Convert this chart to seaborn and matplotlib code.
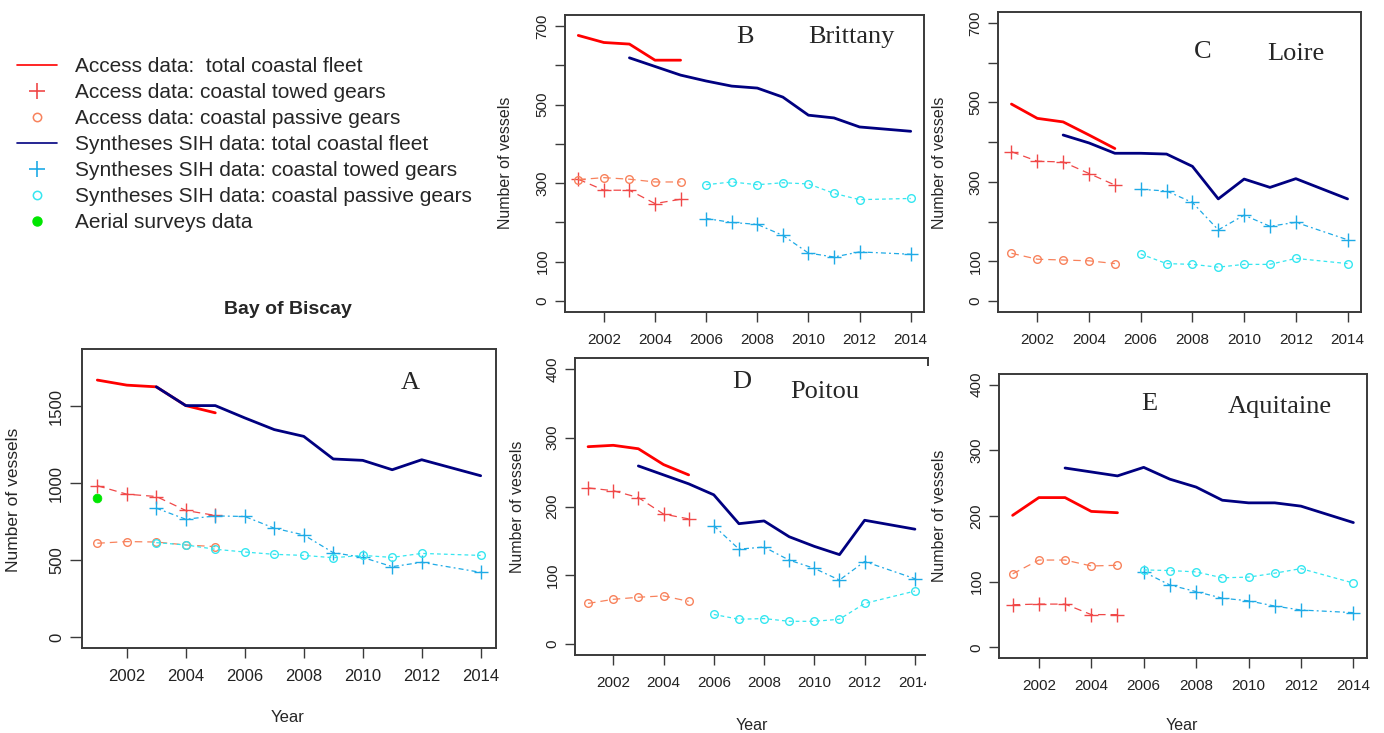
import matplotlib
matplotlib.use("Agg")
import matplotlib.pyplot as plt
import seaborn as sns
from matplotlib.lines import Line2D
from matplotlib.patches import Rectangle

# ---------------- data ----------------
years_acc = [2001, 2002, 2003, 2004, 2005]
years_sih = [2003, 2004, 2005, 2006, 2007, 2008, 2009, 2010, 2011, 2012, 2014]
years_sih_gear = [2006, 2007, 2008, 2009, 2010, 2011, 2012, 2014]

# A  Bay of Biscay
acc_total_A = [1670, 1637, 1626, 1504, 1457]
acc_towed_A = [983, 928, 913, 822, 790]
acc_passive_A = [609, 620, 617, 598, 587]
sih_total_A = [1626, 1504, 1504, 1424, 1348, 1304, 1157, 1148, 1087, 1152, 1048]
sih_towed_A = [837, 765, 787, 783, 707, 663, 548, 517, 457, 485, 420]
sih_passive_A = [613, 598, 570, 552, 537, 530, 515, 530, 517, 543, 530]
aerial_year_A = [2001]
aerial_A = [902]

# B  Brittany
acc_total_B = [676, 658, 654, 613, 613]
acc_towed_B = [310, 282, 282, 248, 259]
acc_passive_B = [309, 314, 310, 303, 303]
sih_total_B = [619, 597, 575, 560, 547, 542, 519, 473, 466, 443, 432]
sih_towed_B = [210, 200, 195, 167, 122, 112, 125, 119]
sih_passive_B = [296, 303, 296, 301, 298, 274, 258, 261]

# C  Loire
acc_total_C = [496, 460, 451, 418, 384]
acc_towed_C = [376, 352, 350, 321, 292]
acc_passive_C = [120, 105, 103, 101, 94]
sih_total_C = [418, 398, 372, 372, 370, 339, 257, 307, 286, 308, 257]
sih_towed_C = [281, 277, 248, 179, 216, 188, 198, 154]
sih_passive_C = [118, 94, 92, 85, 92, 92, 107, 94]

# D  Poitou
acc_total_D = [287, 289, 284, 261, 246]
acc_towed_D = [227, 223, 213, 189, 182]
acc_passive_D = [59, 65, 68, 70, 62]
sih_total_D = [259, 246, 233, 217, 175, 179, 156, 142, 130, 180, 167]
sih_towed_D = [172, 138, 141, 122, 110, 93, 120, 95]
sih_passive_D = [43, 36, 37, 33, 33, 36, 59, 77]

# E  Aquitaine
acc_total_E = [201, 228, 228, 207, 205]
acc_towed_E = [65, 66, 66, 50, 50]
acc_passive_E = [112, 133, 133, 124, 125]
sih_total_E = [273, 267, 261, 274, 256, 244, 224, 220, 220, 215, 190]
sih_towed_E = [115, 95, 85, 75, 71, 63, 57, 53]
sih_passive_E = [118, 117, 115, 106, 107, 113, 120, 98]

legend_labels = [
    "Access data:  total coastal fleet",
    "Access data: coastal towed gears",
    "Access data: coastal passive gears",
    "Syntheses SIH data: total coastal fleet",
    "Syntheses SIH data: coastal towed gears",
    "Syntheses SIH data: coastal passive gears",
    "Aerial surveys data",
]

# ---------------- style ----------------
RED = "#FF0000"
ACC_TOWED = "#F04848"
ACC_PASS = "#F8825C"
NAVY = "#000080"
SIH_TOWED = "#1EAAE6"
SIH_PASS = "#35E6F0"
GREEN = "#00E600"
FRAME = "#3a3a3a"

sns.set_style("ticks")
plt.rcParams["font.family"] = ["Liberation Sans", "DejaVu Sans"]

W, H = 1384, 733
fig = plt.figure(figsize=(W / 100, H / 100), dpi=100)


def add_ax(l, t, r, b, z=0):
    ax = fig.add_axes([l / W, 1 - b / H, (r - l) / W, (b - t) / H])
    ax.set_zorder(z)
    return ax


def series(ax, x, y, color, lw, ls, marker=None, ms=9, mfc=None):
    kw = dict(x=x, y=y, ax=ax, color=color, lw=lw, linestyle=ls)
    if marker is not None:
        kw.update(marker=marker, markersize=ms, markeredgecolor=color,
                  markeredgewidth=1.0,
                  markerfacecolor=(color if mfc is None else mfc))
    sns.lineplot(**kw)


def panel(ax, at, atw, ap, st, stw, sp, gear_years, ymax, ticks, labels):
    series(ax, years_acc, at, RED, 2.0, "-")
    series(ax, years_sih, st, NAVY, 2.0, "-")
    series(ax, years_acc, atw, ACC_TOWED, 0.9, (0, (6, 4)), "+", 10)
    series(ax, years_acc, ap, ACC_PASS, 0.9, (0, (6, 4)), "o", 5.5, "none")
    series(ax, gear_years, stw, SIH_TOWED, 0.9, (0, (4, 2.5, 1.5, 2.5)), "+", 10)
    series(ax, gear_years, sp, SIH_PASS, 0.9, (0, (3, 2.5)), "o", 5.5, "none")
    ax.set_xlim(2000.48, 2014.52)
    ax.set_ylim(-0.04 * ymax, 1.04 * ymax)
    ax.set_xticks(range(2002, 2015, 2))
    ax.set_xticklabels([str(v) for v in range(2002, 2015, 2)])
    ax.set_yticks(ticks)
    ax.set_yticklabels(labels)
    ax.set_xlabel("")
    ax.set_ylabel("")
    ax.tick_params(axis="both", direction="out", length=7, width=1.0,
                   color=FRAME, labelsize=11, labelcolor="#222222",
                   bottom=True, left=True, top=False, right=False)
    ax.tick_params(axis="x", pad=8)
    ax.tick_params(axis="y", pad=4, labelrotation=90)
    for t in ax.get_yticklabels():
        t.set_va("center")
    for s in ax.spines.values():
        s.set_visible(True)
        s.set_color(FRAME)
        s.set_linewidth(1.4)


SERIF = "Liberation Serif"

# A
axA = add_ax(82, 349, 496, 648)
panel(axA, acc_total_A, acc_towed_A, acc_passive_A, sih_total_A, sih_towed_A,
      sih_passive_A, years_sih, 1800, [0, 500, 1000, 1500],
      ["0", "500", "1000", "1500"])
sns.scatterplot(x=aerial_year_A, y=aerial_A, ax=axA, color=GREEN, s=40,
                edgecolor=GREEN, zorder=5)
axA.text(2011.6, 1650, "A", family=SERIF, fontsize=19, ha="center", va="center")
axA.tick_params(axis="both", labelsize=12)
axA.tick_params(axis="y", length=9)

# B
t7 = [0, 100, 200, 300, 400, 500, 600, 700]
l7 = ["0", "100", "", "300", "", "500", "", "700"]
axB = add_ax(565, 15, 924, 312)
panel(axB, acc_total_B, acc_towed_B, acc_passive_B, sih_total_B, sih_towed_B,
      sih_passive_B, years_sih_gear, 700, t7, l7)
axB.text(2007.5, 672, "B", family=SERIF, fontsize=19, ha="center", va="center")
axB.text(2011.7, 672, "Brittany", family=SERIF, fontsize=19, ha="center", va="center")

# C
axC = add_ax(998, 12, 1361, 312)
panel(axC, acc_total_C, acc_towed_C, acc_passive_C, sih_total_C, sih_towed_C,
      sih_passive_C, years_sih_gear, 700, t7, l7)
axC.text(2008.4, 627, "C", family=SERIF, fontsize=19, ha="center", va="center")
axC.text(2012.0, 621, "Loire", family=SERIF, fontsize=19, ha="center", va="center")

t4 = [0, 100, 200, 300, 400]
l4 = ["0", "100", "200", "300", "400"]
# D
axD = add_ax(575, 358, 928, 655, z=0)
panel(axD, acc_total_D, acc_towed_D, acc_passive_D, sih_total_D, sih_towed_D,
      sih_passive_D, years_sih_gear, 400, t4, l4)
axD.text(2007.1, 381, "D", family=SERIF, fontsize=19, ha="center", va="center")
axD.text(2010.4, 366, "Poitou", family=SERIF, fontsize=19, ha="center", va="center")

# white cover (the E picture overlaps the right edge of D)
fig.add_artist(Rectangle((926 / W, 0), (992 - 926) / W, (733 - 366) / H,
                         transform=fig.transFigure, facecolor="white",
                         edgecolor="none", zorder=0.5))

# E
axE = add_ax(999, 374, 1367, 658, z=1)
panel(axE, acc_total_E, acc_towed_E, acc_passive_E, sih_total_E, sih_towed_E,
      sih_passive_E, years_sih_gear, 400, t4, l4)
axE.text(2006.2, 370, "E", family=SERIF, fontsize=19, ha="center", va="center")
axE.text(2011.2, 366, "Aquitaine", family=SERIF, fontsize=19, ha="center", va="center")

# axis titles / labels
def ftext(x, y, s, **kw):
    fig.text(x / W, 1 - y / H, s, ha="center", va="center", zorder=3, **kw)

ftext(288, 310, "Bay of Biscay", fontsize=14, fontweight="bold")
ftext(14, 500, "Number of vessels", rotation=90, fontsize=12.5)
ftext(506, 163, "Number of vessels", rotation=90, fontsize=11.5)
ftext(939, 163, "Number of vessels", rotation=90, fontsize=11.5)
ftext(517, 507, "Number of vessels", rotation=90, fontsize=11.5)
ftext(939, 516, "Number of vessels", rotation=90, fontsize=11.5)
ftext(288, 718, "Year", fontsize=12)
ftext(752, 725, "Year", fontsize=11.5)
ftext(1182, 725, "Year", fontsize=11.5)

# legend
handles = [
    Line2D([], [], color=RED, lw=1.2),
    Line2D([], [], ls="none", marker="+", color=ACC_TOWED, markersize=11, mew=1.2),
    Line2D([], [], ls="none", marker="o", color=ACC_PASS, mfc="none", markersize=6, mew=1.1),
    Line2D([], [], color=NAVY, lw=1.2),
    Line2D([], [], ls="none", marker="+", color=SIH_TOWED, markersize=11, mew=1.2),
    Line2D([], [], ls="none", marker="o", color=SIH_PASS, mfc="none", markersize=6, mew=1.1),
    Line2D([], [], ls="none", marker="o", color=GREEN, markersize=6.5),
]
fig.legend(handles, legend_labels, loc="upper left",
           bbox_to_anchor=(17 / W, 1 - 57 / H), frameon=False, fontsize=15,
           handlelength=1.9, handletextpad=0.9, labelspacing=0.34,
           borderaxespad=0, borderpad=0)

fig.savefig("out.png", dpi=100, facecolor="white")
